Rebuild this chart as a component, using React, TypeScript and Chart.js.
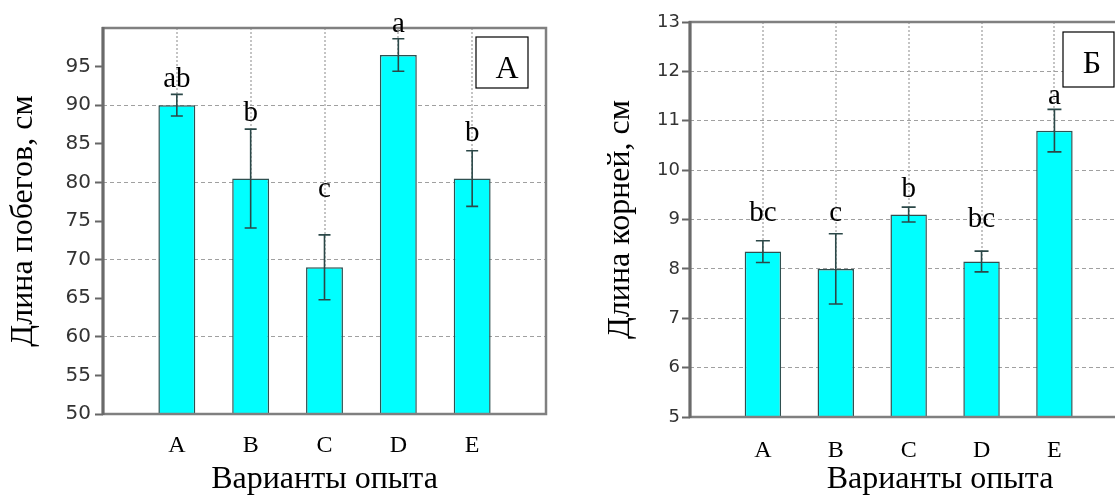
import React, { useEffect, useRef } from 'react';
import { Chart, registerables } from 'chart.js';

Chart.register(...registerables);

// ---------- data ----------
const categories = ['A', 'B', 'C', 'D', 'E'];

const shootValues = [90, 80.5, 69, 96.5, 80.5];
const shootErrors = [1.4, 6.4, 4.2, 2.1, 3.6];
const shootLetters = ['ab', 'b', 'c', 'a', 'b'];
const shootLetterY = [92.4, 87.9, 78.1, 99.5, 85.3];
const shootTitleY = 'Длина побегов, см';
const shootPanel = 'А';

const rootValues = [8.35, 8.0, 9.1, 8.15, 10.8];
const rootErrors = [0.22, 0.71, 0.15, 0.21, 0.43];
const rootLetters = ['bc', 'c', 'b', 'bc', 'a'];
const rootLetterY = [8.96, 8.96, 9.46, 8.85, 11.34];
const rootTitleY = 'Длина корней, см';
const rootPanel = 'Б';

const titleX = 'Варианты опыта';

const SERIF = '"Liberation Serif", "Times New Roman", serif';
const SANS = '"DejaVu Sans", sans-serif';

const extrasPlugin = {
  id: 'extras',
  afterDatasetsDraw(chart: any, _args: any, opts: any) {
    const { ctx, chartArea: ca, scales } = chart;
    const xs = scales.x;
    const ys = scales.y;
    ctx.save();
    // frame
    ctx.strokeStyle = '#808080';
    ctx.lineWidth = 2.5;
    ctx.strokeRect(ca.left, ca.top, ca.right - ca.left, ca.bottom - ca.top);
    ctx.strokeStyle = '#6a6a6a';
    ctx.lineWidth = 3;
    ctx.beginPath();
    ctx.moveTo(ca.left, ca.top - 1);
    ctx.lineTo(ca.left, ca.bottom + 1);
    ctx.stroke();

    // error bars
    ctx.strokeStyle = '#2b4848';
    ctx.lineWidth = 1.6;
    opts.values.forEach((v: number, i: number) => {
      const x = xs.getPixelForValue(i + 1);
      const yT = ys.getPixelForValue(v + opts.errors[i]);
      const yB = ys.getPixelForValue(v - opts.errors[i]);
      ctx.beginPath();
      ctx.moveTo(x, yT);
      ctx.lineTo(x, yB);
      ctx.moveTo(x - opts.cap, yT);
      ctx.lineTo(x + opts.cap, yT);
      ctx.moveTo(x - opts.cap, yB);
      ctx.lineTo(x + opts.cap, yB);
      ctx.stroke();
    });

    // letters
    ctx.fillStyle = '#000';
    ctx.font = `${opts.letterSize}px ${SERIF}`;
    ctx.textAlign = 'center';
    ctx.textBaseline = 'alphabetic';
    opts.letters.forEach((t: string, i: number) => {
      ctx.fillText(t, xs.getPixelForValue(i + 1), ys.getPixelForValue(opts.letterY[i]));
    });

    // panel box
    const bx = ca.left + opts.box.dx;
    const by = ca.top + opts.box.dy;
    ctx.fillStyle = '#fff';
    ctx.fillRect(bx, by, opts.box.w, opts.box.h);
    ctx.strokeStyle = '#000';
    ctx.lineWidth = 1.2;
    ctx.strokeRect(bx, by, opts.box.w, opts.box.h);
    ctx.fillStyle = '#000';
    ctx.font = `32px ${SERIF}`;
    ctx.fillText(opts.panel, bx + opts.box.tx, by + opts.box.ty);
    ctx.restore();
  },
};

type PanelCfg = {
  values: number[];
  errors: number[];
  letters: string[];
  letterY: number[];
  yTitle: string;
  panel: string;
  yMin: number;
  yMax: number;
  yStep: number;
  gridEvery: number;
  xMax: number;
  yWidth: number;
  xHeight: number;
  padTop: number;
  padRight: number;
  tickSize: number;
  yTitlePad: number;
  xTickPad: number;
  yTickPad: number;
  box: { dx: number; dy: number; w: number; h: number; tx: number; ty: number };
  cap: number;
};

function makeConfig(p: PanelCfg): any {
  const data = p.values.map((v, i) => ({ x: i + 1, y: v }));
  return {
    type: 'bar',
    data: {
      datasets: [
        {
          data,
          backgroundColor: '#00FFFF',
          borderColor: '#2f5050',
          borderWidth: 1.5,
          barPercentage: 0.5,
          categoryPercentage: 1,
        },
      ],
    },
    plugins: [extrasPlugin],
    options: {
      animation: false,
      responsive: false,
      events: [],
      layout: { padding: { top: p.padTop, right: p.padRight, left: 0, bottom: 0 } },
      plugins: {
        legend: { display: false },
        tooltip: { enabled: false },
        extras: {
          values: p.values,
          errors: p.errors,
          letters: p.letters,
          letterY: p.letterY,
          panel: p.panel,
          box: p.box,
          cap: p.cap,
          letterSize: 29,
        },
      },
      scales: {
        x: {
          type: 'linear',
          min: 0,
          max: p.xMax,
          offset: false,
          afterBuildTicks: (scale: any) => {
            scale.ticks = categories.map((_, i) => ({ value: i + 1 }));
          },
          afterFit: (scale: any) => {
            scale.height = p.xHeight;
          },
          ticks: {
            callback: (v: number) => categories[Math.round(v) - 1] ?? '',
            font: { family: SERIF, size: 24 },
            color: '#000',
            padding: p.xTickPad,
            maxRotation: 0,
            autoSkip: false,
          },
          grid: {
            offset: false,
            drawTicks: false,
            color: '#c4c4c4',
            lineWidth: 2,
          },
          border: { display: false, dash: [2, 2] },
          title: {
            display: true,
            text: titleX,
            font: { family: SERIF, size: 32 },
            color: '#000',
            padding: { top: 0, bottom: 1 },
          },
        },
        y: {
          type: 'linear',
          min: p.yMin,
          max: p.yMax,
          afterFit: (scale: any) => {
            scale.width = p.yWidth;
          },
          ticks: {
            stepSize: p.yStep,
            font: { family: SANS, size: p.tickSize },
            color: '#333',
            padding: p.yTickPad,
            callback: (v: number) => (p.yMax === 100 && v === 100 ? '' : String(v)),
          },
          grid: {
            color: (c: any) => {
              const v = c.tick ? c.tick.value : NaN;
              if (v === p.yMin || v === p.yMax) return 'rgba(0,0,0,0)';
              return Math.abs(v / p.gridEvery - Math.round(v / p.gridEvery)) < 1e-6 ? '#a0a0a0' : 'rgba(0,0,0,0)';
            },
            tickColor: (c: any) => {
              const v = c.tick ? c.tick.value : NaN;
              return p.yMax === 100 && v === 100 ? 'rgba(0,0,0,0)' : '#666';
            },
            lineWidth: 1,
            tickLength: 8,
            tickWidth: 2,
          },
          border: { display: false, dash: [4, 3] },
          title: {
            display: true,
            text: p.yTitle,
            font: { family: SERIF, size: 32 },
            color: '#000',
            padding: { top: p.yTitlePad, bottom: 0 },
          },
        },
      },
    },
  };
}

function Panel({ cfg, left, width }: { cfg: PanelCfg; left: number; width: number }) {
  const ref = useRef<HTMLCanvasElement | null>(null);
  useEffect(() => {
    if (!ref.current) return;
    const chart = new Chart(ref.current, makeConfig(cfg));
    return () => chart.destroy();
  }, []);
  return (
    <canvas
      ref={ref}
      width={width}
      height={500}
      style={{ position: 'absolute', left, top: 0, width, height: 500 }}
    />
  );
}

const shootCfg: PanelCfg = {
  values: shootValues,
  errors: shootErrors,
  letters: shootLetters,
  letterY: shootLetterY,
  yTitle: shootTitleY,
  panel: shootPanel,
  yMin: 50,
  yMax: 100,
  yStep: 5,
  gridEvery: 10,
  xMax: 6,
  yWidth: 103,
  xHeight: 86,
  padTop: 28,
  padRight: 14,
  tickSize: 20,
  yTitlePad: 4,
  xTickPad: 17,
  yTickPad: 4,
  box: { dx: 373, dy: 9, w: 52, h: 51, tx: 31, ty: 40.5 },
  cap: 6,
};

const rootCfg: PanelCfg = {
  values: rootValues,
  errors: rootErrors,
  letters: rootLetters,
  letterY: rootLetterY,
  yTitle: rootTitleY,
  panel: rootPanel,
  yMin: 5,
  yMax: 13,
  yStep: 1,
  gridEvery: 1,
  xMax: 6.86,
  yWidth: 90,
  xHeight: 83,
  padTop: 22,
  padRight: 10,
  tickSize: 18,
  yTitlePad: 1,
  xTickPad: 19,
  yTickPad: 2,
  box: { dx: 373, dy: 10, w: 51, h: 55, tx: 29, ty: 41 },
  cap: 7,
};

export default function App() {
  return (
    <div
      style={{
        position: 'fixed',
        left: 0,
        top: 0,
        width: 1115,
        height: 500,
        overflow: 'hidden',
        background: '#fff',
      }}
    >
      <Panel cfg={shootCfg} left={0} width={560} />
      <Panel cfg={rootCfg} left={600} width={600} />
    </div>
  );
}
